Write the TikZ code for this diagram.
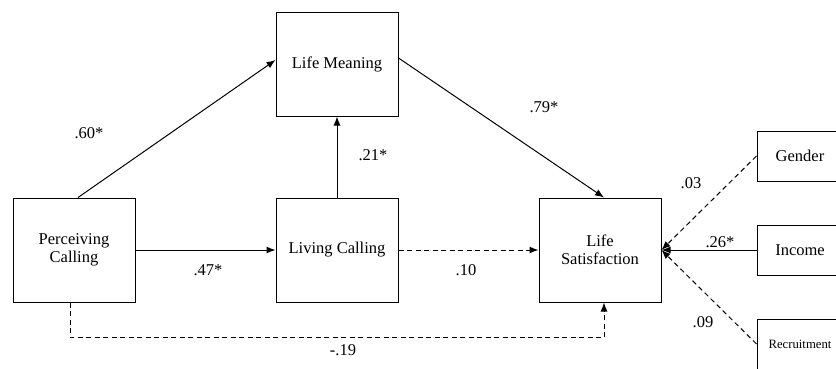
\documentclass[tikz,border=0pt]{standalone}
\usepackage{fontspec}
\setmainfont{Liberation Serif}
\usepackage{tikz}
\usetikzlibrary{shapes,arrows.meta,positioning}

\tikzset{
  varbox/.style={draw, line width=1pt, minimum width=122pt, minimum height=104pt,
    inner sep=0pt, align=center, font=\fontsize{16.5}{18.5}\selectfont},
  ctrlbox/.style={draw, line width=1pt, minimum width=86pt, minimum height=50pt,
    inner sep=0pt, font=\fontsize{16.5}{18.5}\selectfont},
  path/.style={line width=1pt, -{Latex[length=9pt,width=7pt]}},
  nspath/.style={path, dash pattern=on 5pt off 3.5pt},
  coef/.style={inner sep=1pt, font=\fontsize{16.5}{18.5}\selectfont}
}

\begin{document}
\begin{tikzpicture}[x=1pt,y=-1pt]
    \useasboundingbox (0,0) rectangle (836,368);

    % variables
    \node[varbox] (lm) at (337,64) {Life Meaning};
    \node[varbox] (pc) at (74,250) {Perceiving\\Calling};
    \node[varbox] (lc) at (337,250) {Living Calling};
    \node[varbox] (ls) at (600,250) {Life\\Satisfaction};

    % controls
    \node[ctrlbox] (gen) at (800,156) {Gender};
    \node[ctrlbox] (inc) at (800,250) {Income};
    \node[ctrlbox, font=\fontsize{12.7}{14}\selectfont] (rec) at (800,344) {Recruitment};

    % paths
    \draw[path] ([xshift=4pt]pc.north) -- ([yshift=4pt]lm.west);
    \draw[path] ([yshift=6pt]lm.east) -- ([xshift=4pt]ls.north);
    \draw[path] (lc.north) -- (lm.south);
    \draw[path] (pc.east) -- (lc.west);
    \draw[nspath] (lc.east) -- (ls.west);
    \draw[nspath] ([xshift=-4pt]pc.south) -- ++(0,35) -| ([xshift=4pt]ls.south);

    \draw[nspath] (gen.west) -- (ls.east);
    \draw[path] (inc.west) -- (ls.east);
    \draw[nspath] (rec.west) -- (ls.east);

    % coefficients
    \node[coef] (c60) at (89,133) {.60*};
    \node[coef] (c79) at (544,107) {.79*};
    \node[coef] (c21) at (373,155) {.21*};
    \node[coef] (c47) at (208,270) {.47*};
    \node[coef] (c10) at (466,270) {.10};
    \node[coef] (c19) at (343,350) {-.19};
    \node[coef] (c03) at (691,183) {.03};
    \node[coef] (c26) at (720,242) {.26*};
    \node[coef] (c09) at (703,322) {.09};
\end{tikzpicture}
\end{document}
